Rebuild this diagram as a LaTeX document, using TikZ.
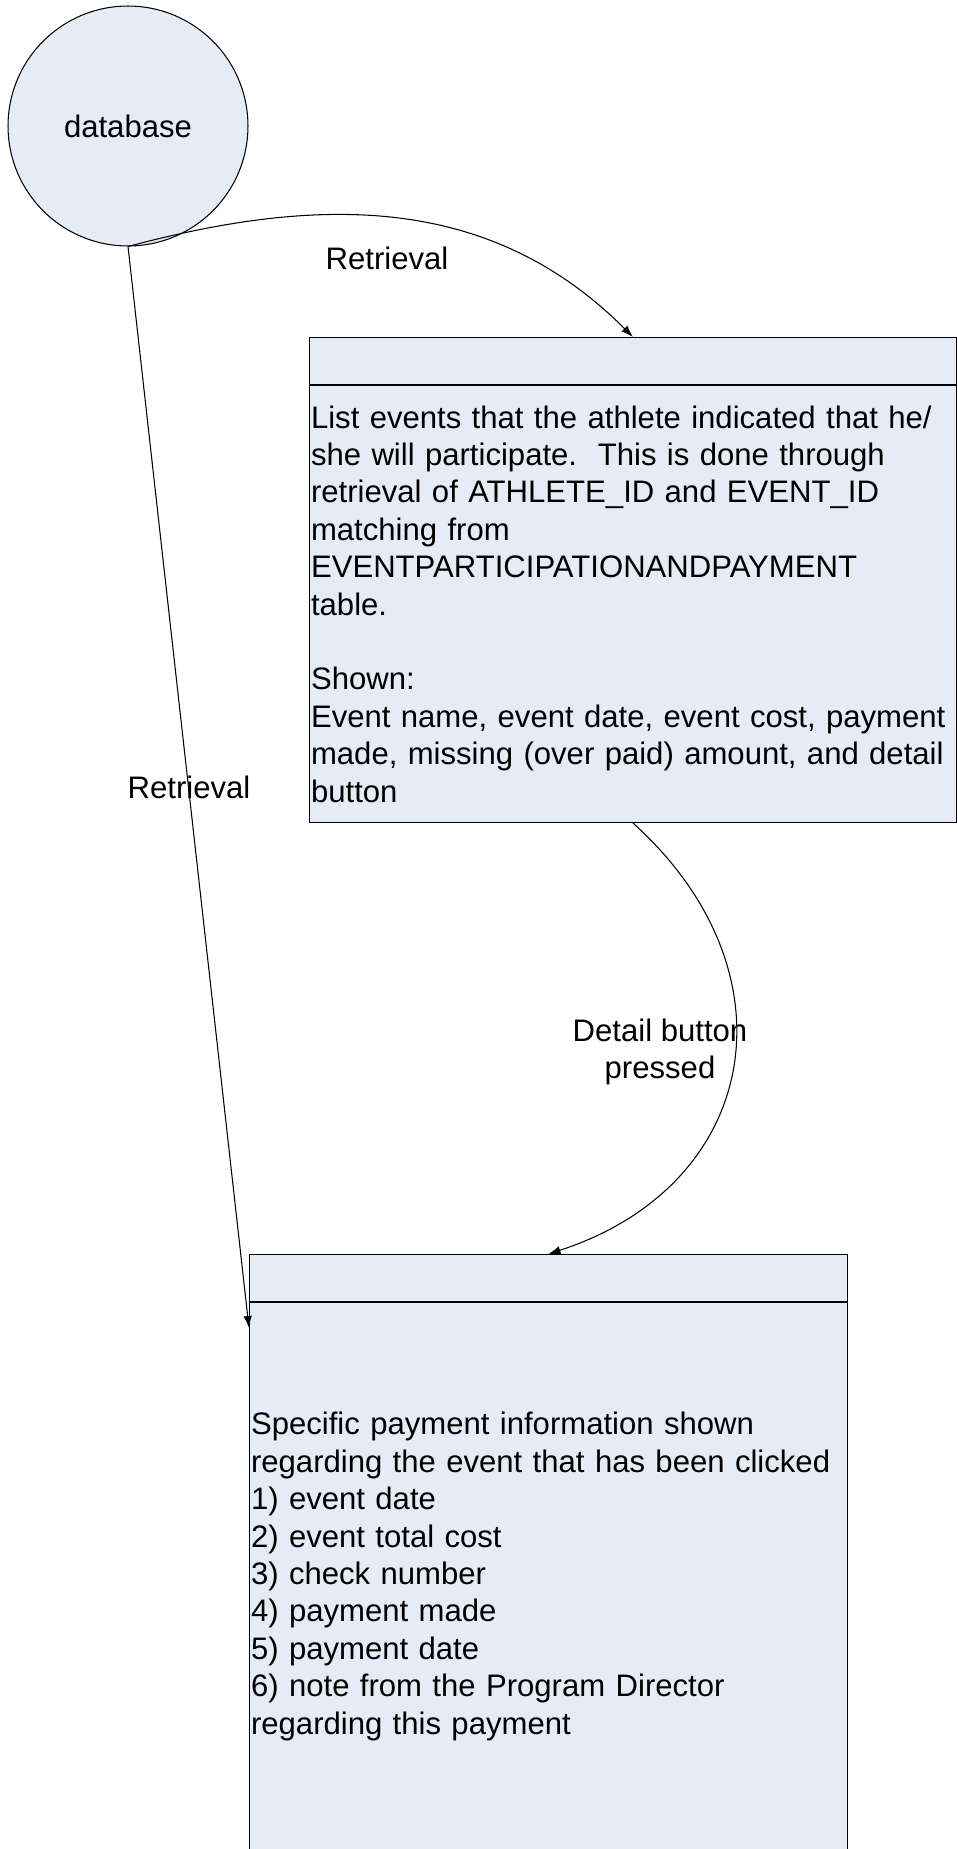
\documentclass[tikz,border=0pt]{standalone}
\usepackage{fontspec}
\setmainfont{Liberation Sans}
\usepackage{tikz}
\usetikzlibrary{positioning,arrows.meta}
\definecolor{boxblue}{RGB}{230,236,246}
\tikzset{
  flowline/.style={line width=0.6pt,arrows={-Latex[length=2.4mm,width=1.7mm]}},
  shapefill/.style={draw,line width=0.6pt,fill=boxblue},
  headbox/.style={shapefill,rectangle,minimum height=0.94cm,inner sep=0pt},
  bodybox/.style={shapefill,rectangle,inner xsep=0.03cm,inner ysep=0pt,align=left},
}
\begin{document}
\begin{tikzpicture}[x=0.02cm,y=0.02cm,font=\fontsize{17.7pt}{21.3pt}\selectfont]
    \useasboundingbox (0,0) rectangle (957,-1849);

    \node[shapefill,circle,minimum size=4.8cm,inner sep=0pt] (db) at (128,-126) {database};

    \node[headbox,minimum width=12.94cm,anchor=north west] (listhead) at (309,-337) {};
    \node[bodybox,below=0pt of listhead,minimum width=12.94cm,minimum height=8.74cm,text width=12.88cm] (list)
      {\mbox{List events that the athlete indicated that he/}\\
       \mbox{she will participate.\ \ This is done through}\\
       \mbox{retrieval of ATHLETE\_ID and EVENT\_ID}\\
       matching from\\
       \mbox{EVENTPARTICIPATIONANDPAYMENT}\\
       table.\\[21.3pt]
       Shown:\\
       \mbox{Event name, event date, event cost, payment}\\
       \mbox{made, missing (over paid) amount, and detail}\\
       button};

    \node[headbox,minimum width=11.96cm,anchor=north west] (payhead) at (249,-1254) {};
    \node[bodybox,below=0pt of payhead,minimum width=11.96cm,minimum height=10.96cm,text width=11.9cm] (pay)
      {\mbox{Specific payment information shown}\\
       \mbox{regarding the event that has been clicked}\\
       1) event date\\
       2) event total cost\\
       3) check number\\
       4) payment made\\
       5) payment date\\
       \mbox{6) note from the Program Director}\\
       \mbox{regarding this payment}};
    \coordinate (payin) at (249,-1328);

    \draw[flowline] (db.south) to[out=15,in=135] (listhead.north);
    \draw[flowline] (db.south) -- (payin);
    \draw[flowline] (list.south) to[out=-42,in=18,looseness=1.3] (payhead.north);

    \node (ret1) at (387,-258) {Retrieval};
    \node (ret2) at (189,-787) {Retrieval};
    \node[align=center] (detail) at (660,-1052) {Detail button\\pressed};
\end{tikzpicture}
\end{document}
